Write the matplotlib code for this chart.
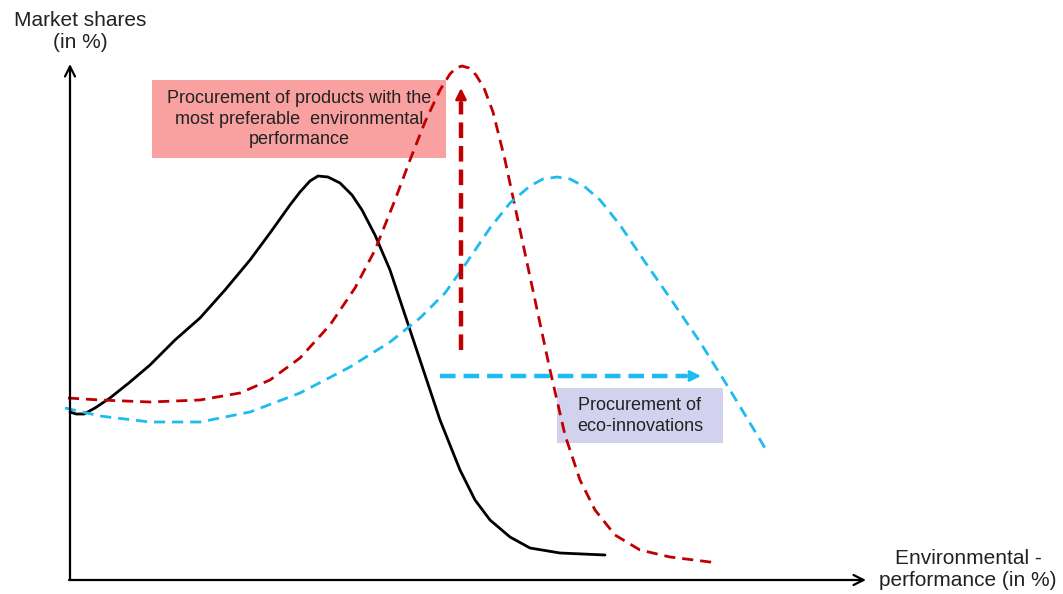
import matplotlib
matplotlib.use("Agg")
import matplotlib.pyplot as plt
from matplotlib.patches import Rectangle

plt.rcParams["font.family"] = ["Liberation Sans", "DejaVu Sans"]

# ── data (x = performance, y = market share, px units) ──

black_x = [0, 6, 14, 25, 40, 60, 80, 105, 130, 155, 180, 200, 220, 230, 240, 248,
           258, 270, 282, 292, 305, 320, 335, 350, 370, 390, 405, 420, 440, 460, 490, 535]
black_y = [168, 166, 166, 172, 182, 198, 215, 240, 262, 290, 320, 347, 375, 388, 399, 404,
           403, 397, 385, 370, 345, 310, 265, 220, 160, 110, 80, 60, 43, 32, 27, 25]

red_x = [-2, 30, 80, 130, 170, 200, 230, 260, 285, 305, 325, 340, 355, 370, 380, 386,
         392, 399, 406, 414, 423, 435, 450, 465, 480, 495, 510, 525, 545, 570, 600, 648]
red_y = [182, 180, 178, 180, 187, 200, 222, 255, 292, 330, 380, 420, 458, 490, 506, 512,
         514, 512, 505, 492, 468, 420, 350, 280, 210, 145, 100, 70, 45, 30, 23, 17]

blue_x = [-5, 30, 80, 130, 180, 230, 280, 320, 350, 375, 395, 420, 440, 460, 473, 487,
          500, 515, 530, 550, 575, 600, 630, 660, 695]
blue_y = [172, 164, 158, 158, 168, 187, 213, 238, 262, 287, 315, 352, 377, 394, 401, 403,
          401, 393, 380, 355, 318, 282, 238, 190, 132]

y_label = "Market shares\n(in %)"
x_label = "Environmental -\nperformance (in %)"
red_box_text = "Procurement of products with the\nmost preferable  environmental\nperformance"
blue_box_text = "Procurement of\neco-innovations"

RED = "#c00000"
BLUE = "#1cbcf0"

# ── figure: one axes over the whole canvas, origin of the sketch at (70, 580) px ──

fig = plt.figure(figsize=(10.63, 5.94), dpi=100)
ax = fig.add_axes([0, 0, 1, 1])
ax.set_xlim(-70, 993)
ax.set_ylim(-14, 580)
ax.axis("off")

# axes arrows
ax.annotate("", xy=(0, 516), xytext=(0, 0),
            arrowprops=dict(arrowstyle="->", color="black", lw=1.6,
                            shrinkA=0, shrinkB=0, mutation_scale=18))
ax.annotate("", xy=(796, 0), xytext=(-1, 0),
            arrowprops=dict(arrowstyle="->", color="black", lw=1.6,
                            shrinkA=0, shrinkB=0, mutation_scale=18))

ax.text(10, 548, y_label, ha="center", va="center", fontsize=15, linespacing=1.2,
        color="#222222")
ax.text(898, 11, x_label, ha="center", va="center", fontsize=15, linespacing=1.2,
        color="#222222")

# curves
ax.plot(black_x, black_y, color="black", lw=2.0, solid_capstyle="round")
ax.plot(red_x, red_y, color=RED, lw=2.0, dashes=(4, 2.5))
ax.plot(blue_x, blue_y, color=BLUE, lw=2.0, dashes=(4, 2.5))

# text boxes
ax.add_patch(Rectangle((82, 422), 294, 78, fc="#f9a0a0", ec="none", zorder=1))
ax.text(229, 461, red_box_text, ha="center", va="center", fontsize=13,
        linespacing=1.3, color="#222222", zorder=3)
ax.add_patch(Rectangle((487, 137), 166, 55, fc="#d2d2ee", ec="none", zorder=1))
ax.text(570, 164, blue_box_text, ha="center", va="center", fontsize=13,
        linespacing=1.35, color="#222222", zorder=3)

# red vertical dashed arrow
ax.plot([391, 391], [230, 478], color=RED, lw=3.2, dashes=(3.5, 1.8))
ax.annotate("", xy=(391, 492), xytext=(391, 476),
            arrowprops=dict(arrowstyle="-|>", color=RED, lw=2,
                            shrinkA=0, shrinkB=0, mutation_scale=16))

# blue horizontal dashed arrow
ax.plot([370, 617], [204, 204], color=BLUE, lw=3.2, dashes=(3.5, 1.8))
ax.annotate("", xy=(631, 204), xytext=(614, 204),
            arrowprops=dict(arrowstyle="-|>", color=BLUE, lw=2,
                            shrinkA=0, shrinkB=0, mutation_scale=16))

fig.savefig("out.png", dpi=100)
